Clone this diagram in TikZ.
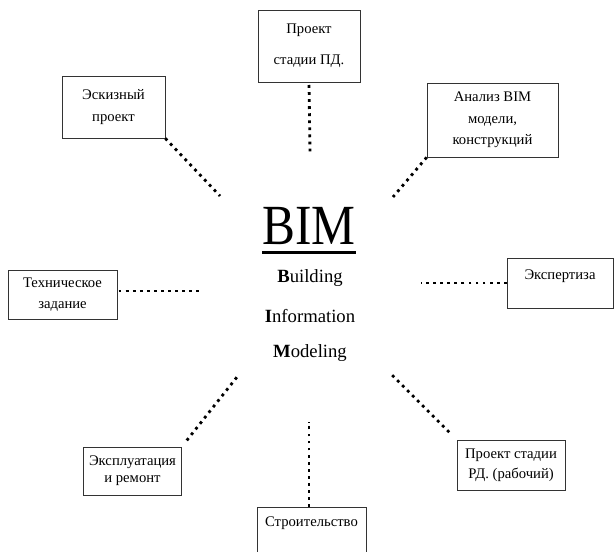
\documentclass[tikz,border=0pt]{standalone}
\usepackage{fontspec}
\setmainfont{Liberation Serif}
\usepackage{tikz}

\tikzset{
    stagebox/.style={draw=black!80, line width=0.5pt, align=center, inner sep=0pt,
        font=\fontsize{11}{16}\selectfont},
    dotline/.style={line width=2.1pt, dash pattern=on 2.1pt off 3.2pt}
}

\begin{document}
\begin{tikzpicture}[x=0.75pt, y=-0.75pt]
    \useasboundingbox (0,0) rectangle (614,552);

    % Drawing the centre title
    \node[inner sep=0pt, font=\fontsize{37}{37}\selectfont] (bim) at (309,226) {\scalebox{1}[1.15]{BIM}};
    \draw[line width=2pt] ([yshift=-6pt]bim.base west) -- ([yshift=-6pt]bim.base east);
    \node[font=\fontsize{14}{14}\selectfont] (bld) at (310,278) {\textbf{B}uilding};
    \node[font=\fontsize{14}{14}\selectfont] (inf) at (310,316) {\textbf{I}nformation};
    \node[font=\fontsize{14}{14}\selectfont] (mod) at (310,353) {\textbf{M}odeling};

    % Drawing the stage boxes
    \node[stagebox, minimum width=76.5pt, minimum height=54pt, font=\fontsize{11}{23}\selectfont]
        (pd) at (309,46) {Проект\\стадии ПД.};
    \node[stagebox, minimum width=98.25pt, minimum height=55.5pt]
        (anl) at (492.5,120) {Анализ BIM\\модели,\\конструкций};
    \node[stagebox, minimum width=77.25pt, minimum height=46.5pt]
        (esk) at (113.5,107) {Эскизный\\проект};
    \node[stagebox, minimum width=81.75pt, minimum height=36.75pt]
        (tz) at (62.5,294.5) {Техническое\\задание};
    \node[stagebox, minimum width=79.5pt, anchor=north, text height=16pt, text depth=21.5pt]
        (exp) at (560,258) {Экспертиза};
    \node[stagebox, minimum width=73.5pt, minimum height=36pt, font=\fontsize{11}{13}\selectfont]
        (exs) at (132.5,471) {Эксплуатация\\и ремонт};
    \node[stagebox, minimum width=81pt, minimum height=37.5pt, font=\fontsize{11}{15}\selectfont]
        (rd) at (511,465) {Проект стадии\\РД. (рабочий)};
    \node[stagebox, minimum width=81.75pt, anchor=north, text height=14pt, text depth=40pt]
        (str) at (311.5,507) {Строительство};

    % Drawing the dotted links to BIM
    \coordinate (cpd) at (310,152);
    \coordinate (canl) at (393,197);
    \coordinate (cesk) at (220,196);
    \coordinate (ctz) at (200,291);
    \coordinate (cexp) at (421,283);
    \coordinate (cexs) at (237,377);
    \coordinate (crd) at (390,373);
    \coordinate (cstr) at (309,422);

    \draw[dotline, shorten <=2pt] (pd.south) -- (cpd);
    \draw[dotline] (anl.south west) -- (canl);
    \draw[dotline] (esk.south east) -- (cesk);
    \draw[dotline, shorten <=1pt] (ctz -| tz.east) -- (ctz);
    \draw[dotline] (exp.west |- cexp) -- (cexp);
    \draw[dotline, shorten <=6pt] (exs.north east) -- (cexs);
    \draw[dotline, shorten <=8pt] (rd.north west) -- (crd);
    \draw[dotline] (str.north -| cstr) -- (cstr);
\end{tikzpicture}
\end{document}
